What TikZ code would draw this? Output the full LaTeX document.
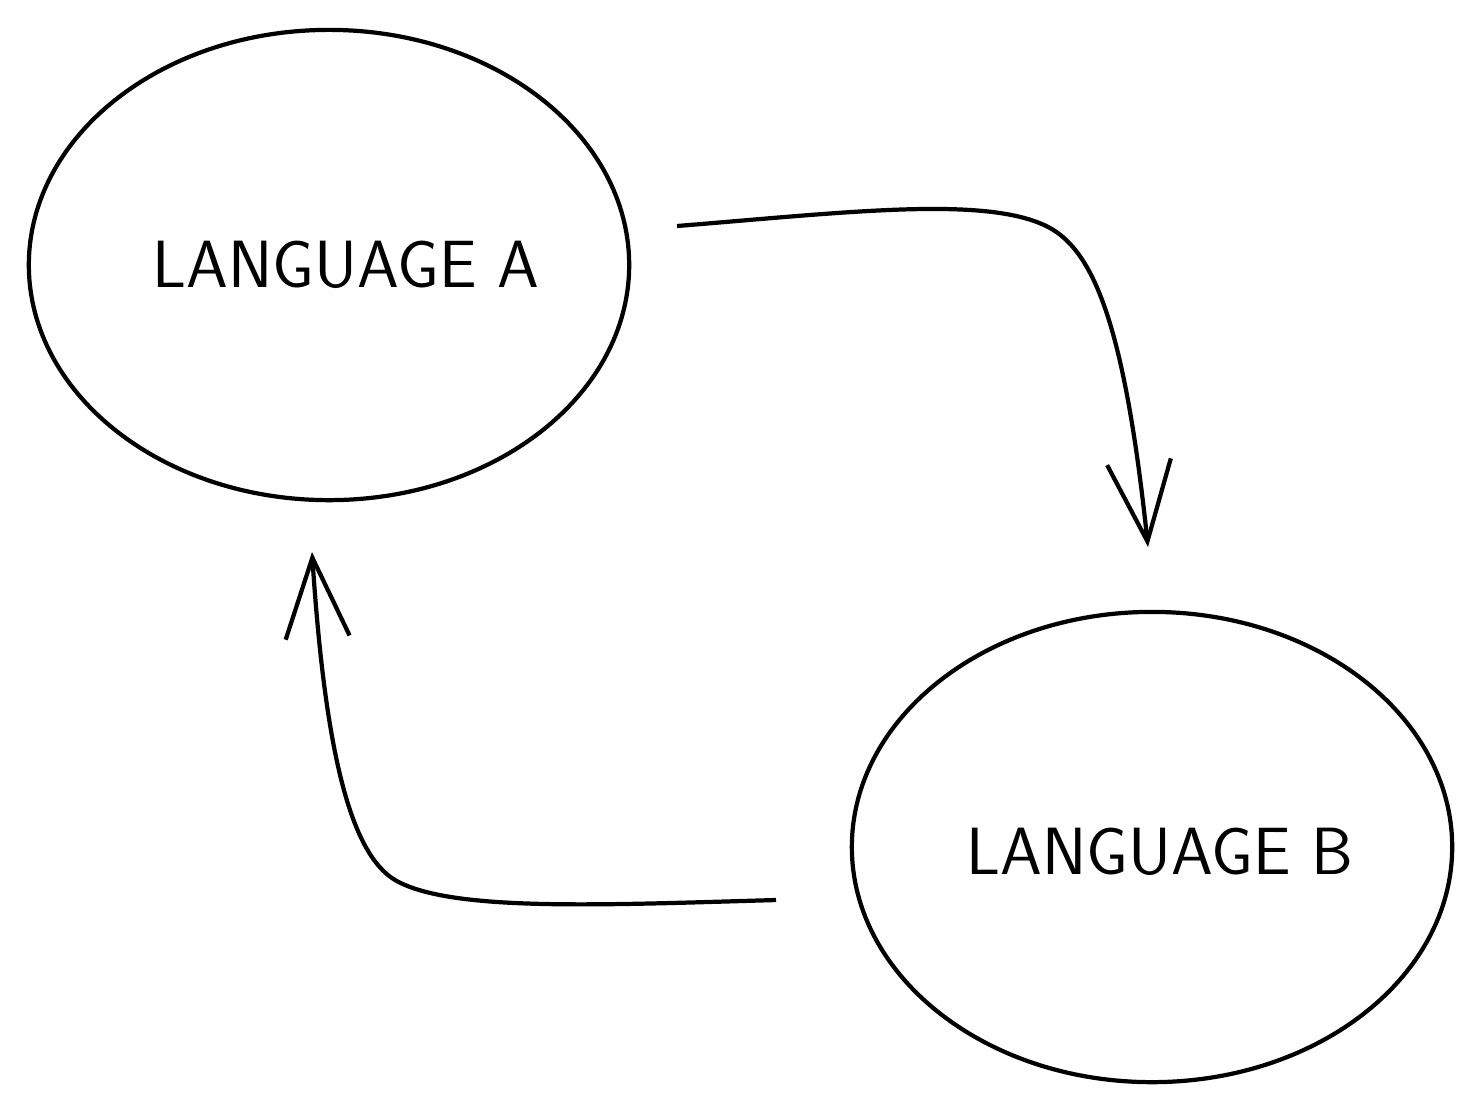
\documentclass[tikz,border=0pt]{standalone}
\usetikzlibrary{arrows.meta,shapes.geometric}
\tikzset{lang/.append style={draw,ellipse,line width=1.2pt,minimum width=6.0cm,minimum height=4.7cm,inner sep=0}}
\tikzset{langtext/.append style={font=\sffamily\fontsize{19}{22}\selectfont,inner sep=0}}
\tikzset{link/.append style={line width=1.2pt,-{Straight Barb[length=8mm,width=6.4mm,line width=1.2pt]}}}

\begin{document}
\begin{tikzpicture}[x=0.01cm,y=-0.01cm]
                \useasboundingbox (0,0) rectangle (1483,1111);
                % languages
                \node[lang,label={[langtext,xshift=0.17cm]center:LANGUAGE A}] (a) at (329,265) {};
                \node[lang,label={[langtext,xshift=0.08cm,yshift=-0.05cm]center:LANGUAGE B}] (b) at (1152,847) {};
                \coordinate (aout) at (677,226);
                \coordinate (bin) at (1148,547);
                \coordinate (bout) at (776,900);
                \coordinate (ain) at (312,552);
                \draw[link] (aout) .. controls (850,212) and (990,195) .. (1050,228) .. controls (1095,253) and (1125,330) .. (bin);
                \draw[link] (bout) .. controls (600,905) and (450,912) .. (395,880) .. controls (350,853) and (325,750) .. (ain);
            \end{tikzpicture}
\end{document}
